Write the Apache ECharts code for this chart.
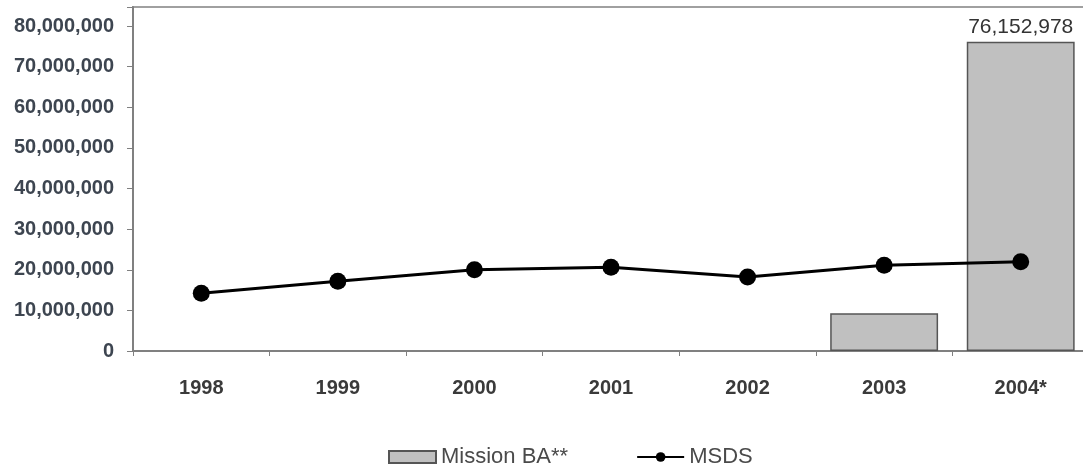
<!DOCTYPE html>
<html>
<head>
<meta charset="utf-8">
<script src="https://cdn.jsdelivr.net/npm/echarts@6/dist/echarts.min.js"></script>
<style>
  html, body { margin: 0; padding: 0; background: #fff; }
  #main { width: 1083px; height: 473px; }
</style>
</head>
<body>
<div id="main"></div>
<script>
var years = ['1998', '1999', '2000', '2001', '2002', '2003', '2004*'];
var missionBA = [null, null, null, null, null, 9300000, 76152978];
var msds = [14200000, 17200000, 20000000, 20600000, 18200000, 21100000, 22000000];
var yTicks = [0, 10000000, 20000000, 30000000, 40000000, 50000000, 60000000, 70000000, 80000000];

var myChart = echarts.init(document.getElementById('main'));

function fmt(v) {
  return String(v).replace(/\B(?=(\d{3})+(?!\d))/g, ',');
}

myChart.setOption({
  animation: false,
  textStyle: { fontFamily: 'Liberation Sans, Arial, sans-serif' },
  grid: {
    left: 133, right: -6, top: 7, bottom: 122,
    outerBoundsMode: 'none',
    show: true, borderColor: '#a0a0a0', borderWidth: 2
  },
  legend: {
    left: 388,
    top: 446,
    padding: 0,
    itemGap: 68,
    itemWidth: 47,
    itemHeight: 12,
    textStyle: { fontSize: 22, color: '#4a4a4a' },
    data: [
      { name: 'Mission BA**', icon: 'rect' },
      { name: 'MSDS' }
    ]
  },
  xAxis: {
    type: 'category',
    data: years,
    axisLine: { lineStyle: { color: '#808080', width: 2 } },
    axisTick: { show: true, length: 5, lineStyle: { color: '#808080' } },
    axisLabel: { fontSize: 20, fontWeight: 'bold', color: '#3a3a3a', margin: 27 }
  },
  yAxis: {
    type: 'value',
    min: 0,
    max: 84700000,
    interval: 10000000,
    splitLine: { show: false },
    axisLine: { show: true, lineStyle: { color: '#808080', width: 2 } },
    axisTick: { show: true, length: 6, lineStyle: { color: '#808080' } },
    axisLabel: {
      fontSize: 20, fontWeight: 'bold', color: '#3d4550', margin: 19,
      formatter: function (v) {
        return yTicks.indexOf(v) >= 0 ? fmt(v) : '';
      }
    }
  },
  series: [
    {
      name: 'Mission BA**',
      type: 'bar',
      data: missionBA,
      barWidth: '79%',
      itemStyle: { color: '#c0c0c0', borderColor: '#555', borderWidth: 1.5 },
      label: {
        show: true,
        position: 'top',
        distance: 4,
        fontSize: 21,
        color: '#333',
        formatter: function (p) {
          return p.value > 50000000 ? fmt(p.value) : '';
        }
      }
    },
    {
      name: 'MSDS',
      type: 'line',
      data: msds,
      symbol: 'circle',
      symbolSize: 17,
      itemStyle: { color: '#000' },
      lineStyle: { color: '#000', width: 3 }
    }
  ]
});
</script>
</body>
</html>
